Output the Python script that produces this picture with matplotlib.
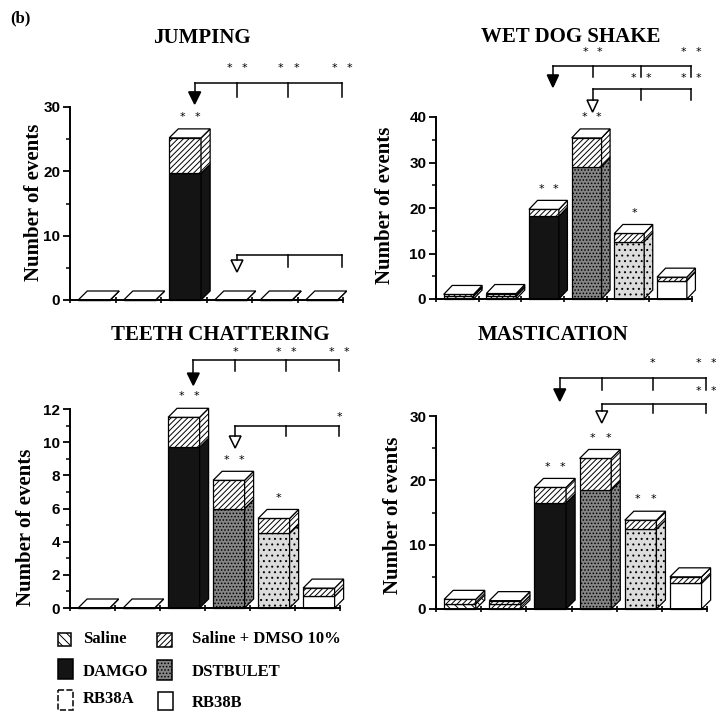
import matplotlib
matplotlib.use('Agg')
import matplotlib.pyplot as plt
import matplotlib.transforms as mtransforms
from matplotlib.patches import Rectangle, Polygon

W, H = 716, 711

groups = ['Saline', 'Saline + DMSO 10%', 'DAMGO', 'DSTBULET', 'RB38A', 'RB38B']

# mean (patterned part) and sem (hatched cap) per group
jump_mean = [0, 0, 19.7, 0, 0, 0]
jump_sem = [0, 0, 5.5, 0, 0, 0]
wds_mean = [0.6, 0.6, 18.2, 29.1, 12.6, 4.0]
wds_sem = [0.4, 0.6, 1.5, 6.3, 1.8, 0.8]
teeth_mean = [0, 0, 9.7, 6.0, 4.5, 0.7]
teeth_sem = [0, 0, 1.8, 1.7, 0.9, 0.5]
mast_mean = [0.8, 0.7, 16.5, 18.5, 12.4, 4.0]
mast_sem = [0.7, 0.6, 2.4, 4.9, 1.4, 1.0]

# stars above each bar (vs saline)
jump_stars = ['', '', '**', '', '', '']
wds_stars = ['', '', '**', '**', '*', '']
teeth_stars = ['', '', '**', '**', '*', '']
mast_stars = ['', '', '**', '**', '**', '']

# comparisons: (reference group, compared groups, stars)
jump_cmp = [(2, [3, 4, 5], ['**', '**', '**']), (3, [4, 5], ['', ''])]
wds_cmp = [(2, [3, 4, 5], ['**', '', '**']), (3, [4, 5], ['**', '**'])]
teeth_cmp = [(2, [3, 4, 5], ['*', '**', '**']), (3, [4, 5], ['', '*'])]
mast_cmp = [(2, [3, 4, 5], ['', '*', '**']), (3, [4, 5], ['', '**'])]

plt.rcParams['hatch.linewidth'] = 0.7
SERIF = 'Liberation Serif'
SANS = 'Liberation Sans'

STYLE = [
    dict(fc='white', hatch='\\\\\\\\'),
    dict(fc='white', hatch='//////'),
    dict(fc='#141414', hatch=None),
    dict(fc='#858585', hatch='.....'),
    dict(fc='#dcdcdc', hatch='...'),
    dict(fc='white', hatch=None),
]
X_OFF = {2: 0.74, 3: 0.67, 4: 0.8, 5: 0.98}


def px_axes(x0, y0, x1, y1):
    return fig.add_axes([x0 / W, 1 - y1 / H, (x1 - x0) / W, (y1 - y0) / H])


def draw_bars(ax, mean, sem, ymax, ah):
    dx = 0.2
    dy = 9.0 / ah * ymax
    kw = dict(edgecolor='black', linewidth=0.9, clip_on=False)
    for i, (m, s) in enumerate(zip(mean, sem)):
        x0, x1 = i + 0.18, i + 0.88
        t = m + s
        st = STYLE[i]
        ax.add_patch(Rectangle((x0, 0), x1 - x0, m, facecolor=st['fc'], hatch=st['hatch'], **kw))
        ax.add_patch(Rectangle((x0, m), x1 - x0, s, facecolor='white', hatch='//////', **kw))
        ax.add_patch(Polygon([(x1, 0), (x1 + dx, dy), (x1 + dx, m + dy), (x1, m)],
                             facecolor=st['fc'], hatch=st['hatch'], **kw))
        ax.add_patch(Polygon([(x1, m), (x1 + dx, m + dy), (x1 + dx, t + dy), (x1, t)],
                             facecolor='white', hatch='//////', **kw))
        ax.add_patch(Polygon([(x0, t), (x1, t), (x1 + dx, t + dy), (x0 + dx, t + dy)],
                             facecolor='white', **kw))
    return dy


def stars(ax, x, y, s, trans=None, offset=0):
    if not s:
        return
    xs = [x] if len(s) == 1 else [x - 0.17, x + 0.17]
    for xx in xs:
        if trans is None:
            ax.annotate('*', (xx, y), xytext=(0, offset), textcoords='offset points',
                        ha='center', va='center', fontsize=8, annotation_clip=False)
        else:
            ax.text(xx, y, '*', transform=trans, ha='center', va='center', fontsize=8, clip_on=False)


def bracket(ax, ref, targets, sts, levels, filled, ah):
    line_y, tick_y, tip_y, star_y = levels
    tr = mtransforms.blended_transform_factory(ax.transData, ax.transAxes)
    xr = ref + X_OFF[ref]
    xt = [j + X_OFF[j] for j in targets]
    h = 12.0 / ah
    ax.plot([xr, xt[-1]], [line_y, line_y], color='black', lw=1.1, transform=tr, clip_on=False)
    ax.plot([xr, xr], [line_y, tip_y + h], color='black', lw=1.1, transform=tr, clip_on=False)
    for x, s in zip(xt, sts):
        ax.plot([x, x], [line_y, tick_y], color='black', lw=1.1, transform=tr, clip_on=False)
        stars(ax, x, star_y, s, trans=tr)
    ax.add_patch(Polygon([(xr - 0.13, tip_y + h), (xr + 0.13, tip_y + h), (xr, tip_y)],
                         facecolor='black' if filled else 'white', edgecolor='black',
                         lw=1.1, transform=tr, clip_on=False))


fig = plt.figure(figsize=(W / 100, H / 100), dpi=100)

panels = [
    dict(title='JUMPING', box=(70, 107, 343, 300), ymax=30, major=10, minor=5,
         mean=jump_mean, sem=jump_sem, st=jump_stars, cmp=jump_cmp,
         levels=[(1.124, 1.052, 1.016, 1.202), (0.233, 0.171, 0.145, 0.30)],
         title_xy=(202, 38), label_xy=(34, 202)),
    dict(title='WET DOG SHAKE', box=(436, 117, 692, 299), ymax=40, major=10, minor=5,
         mean=wds_mean, sem=wds_sem, st=wds_stars, cmp=wds_cmp,
         levels=[(1.28, 1.22, 1.165, 1.357), (1.154, 1.093, 1.027, 1.214)],
         title_xy=(571, 37), label_xy=(385, 205)),
    dict(title='TEETH CHATTERING', box=(70, 409, 340, 608), ymax=12, major=2, minor=1,
         mean=teeth_mean, sem=teeth_sem, st=teeth_stars, cmp=teeth_cmp,
         levels=[(1.246, 1.191, 1.12, 1.286), (0.915, 0.864, 0.804, 0.96)],
         title_xy=(220, 335), label_xy=(26, 527)),
    dict(title='MASTICATION', box=(436, 416, 707, 609), ymax=30, major=10, minor=5,
         mean=mast_mean, sem=mast_sem, st=mast_stars, cmp=mast_cmp,
         levels=[(1.197, 1.135, 1.078, 1.275), (1.062, 1.016, 0.964, 1.13)],
         title_xy=(553, 335), label_xy=(393, 515)),
]

for p in panels:
    x0, y0, x1, y1 = p['box']
    ah = y1 - y0
    ax = px_axes(x0, y0, x1, y1)
    ax.set_xlim(0, 6)
    ax.set_ylim(0, p['ymax'])
    for sp in ['top', 'right']:
        ax.spines[sp].set_visible(False)
    for sp in ['left', 'bottom']:
        ax.spines[sp].set_linewidth(1.4)
    ax.set_xticks(range(7))
    ax.set_xticklabels([])
    ax.tick_params(axis='x', length=4, width=1.2, direction='inout')
    ax.set_yticks(range(0, p['ymax'] + 1, p['major']))
    ax.set_yticks(range(0, p['ymax'] + 1, p['minor']), minor=True)
    ax.tick_params(axis='y', which='major', length=5, width=1.3, pad=2)
    ax.tick_params(axis='y', which='minor', length=3, width=1.1)
    for lab in ax.get_yticklabels():
        lab.set_fontfamily(SANS)
        lab.set_fontweight('bold')
        lab.set_fontsize(11)
    ax.patch.set_alpha(0)

    dy = draw_bars(ax, p['mean'], p['sem'], p['ymax'], ah)
    for i, s in enumerate(p['st']):
        top = p['mean'][i] + p['sem'][i] + dy
        stars(ax, i + 0.64, top, s, offset=8.5)
    for (ref, tg, sts), lev, filled in zip(p['cmp'], p['levels'], [True, False]):
        bracket(ax, ref, tg, sts, lev, filled, ah)

# overlay in pixel coordinates for titles, labels and legend
ov = fig.add_axes([0, 0, 1, 1], zorder=-1)
ov.set_xlim(0, W)
ov.set_ylim(H, 0)
ov.axis('off')

ov.text(10, 18, '(b)', fontfamily=SERIF, fontweight='bold', fontsize=12, ha='left', va='center')
for p in panels:
    ov.text(*p['title_xy'], p['title'], fontfamily=SERIF, fontweight='bold', fontsize=15,
            ha='center', va='center')
    ov.text(*p['label_xy'], 'Number of events', fontfamily=SERIF, fontweight='bold',
            fontsize=15, rotation=90, ha='center', va='center')

legend_pos = [(58, 633, 13, 13), (157, 633, 15, 14),
              (58, 659, 15, 20), (157, 660, 15, 20),
              (58, 690, 15, 20), (158, 692, 15, 18)]
text_y = [639, 639, 672, 672, 699, 703]
for gi in range(len(groups)):
    x, y, w, h = legend_pos[gi]
    st = STYLE[gi]
    fc, hatch, ls = st['fc'], st['hatch'], '-'
    if groups[gi] == 'RB38A':
        fc, hatch, ls = 'white', None, (0, (4, 1.5))
    ov.add_patch(Rectangle((x, y), w, h, facecolor=fc, hatch=hatch,
                           edgecolor='black', linewidth=1.1, linestyle=ls))
    tx = 83 if gi % 2 == 0 else 192
    ov.text(tx, text_y[gi], groups[gi], fontfamily=SERIF, fontweight='bold', fontsize=12,
            ha='left', va='center')

fig.savefig('out.png', dpi=100)
